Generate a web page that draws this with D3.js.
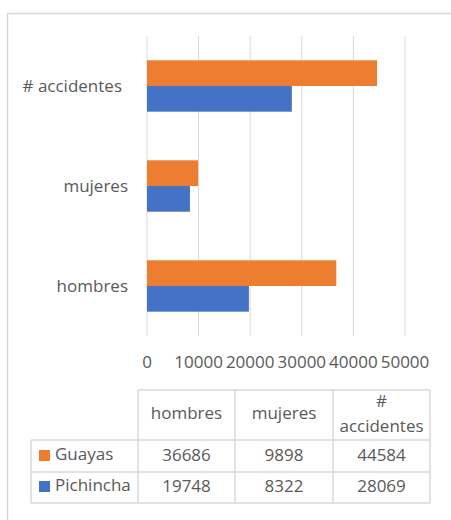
<!DOCTYPE html>
<html><head><meta charset="utf-8">
<script src="https://cdn.jsdelivr.net/npm/d3@7"></script>
<style>body{margin:0;background:#fff;} svg{display:block;} text{font-family:"Open Sans",sans-serif;fill:#595959;}</style>
</head><body>
<svg id="c" width="451" height="520"></svg>
<script>
const categories = ["hombres", "mujeres", "# accidentes"];
const seriesNames = ["Guayas", "Pichincha"];
const guayas = [36686, 9898, 44584];
const pichincha = [19748, 8322, 28069];
const xTicks = [0, 10000, 20000, 30000, 40000, 50000];
const colors = ["#ED7D31", "#4472C4"];

const svg = d3.select("#c");
const fs = 17;
// frame
svg.append("rect").attr("x",7.5).attr("y",13.5).attr("width",470).attr("height",530)
  .attr("fill","none").attr("stroke","#d9d9d9").attr("stroke-width",1.5);

const x = d3.scaleLinear().domain([0,50000]).range([147,405]);
const y = d3.scaleBand().domain(categories.slice().reverse()).range([36,336]).paddingInner(0.486).paddingOuter(0.243);
const ySub = d3.scaleBand().domain(seriesNames).range([0,y.bandwidth()]);

// gridlines
svg.append("g").selectAll("line").data(xTicks).join("line")
  .attr("x1",d=>x(d)).attr("x2",d=>x(d)).attr("y1",36).attr("y2",336)
  .attr("stroke","#d9d9d9").attr("stroke-width",1);

const series = [guayas, pichincha];
series.forEach((vals,si)=>{
  svg.append("g").selectAll("rect").data(categories).join("rect")
    .attr("x",x(0)).attr("y",(c)=>y(c)+ySub(seriesNames[si]))
    .attr("width",(c,i)=>x(vals[i])-x(0)).attr("height",ySub.bandwidth())
    .attr("fill",colors[si]);
});

// category labels
svg.append("g").selectAll("text").data(categories).join("text")
  .attr("x",d=> d==="# accidentes" ? 122 : 128).attr("y",d=>y(d)+y.bandwidth()/2)
  .attr("dy","0.35em").attr("text-anchor","end").attr("font-size",fs).text(d=>d);

// x tick labels
svg.append("g").selectAll("text").data(xTicks).join("text")
  .attr("x",d=>x(d)).attr("y",362).attr("dy","0.35em").attr("text-anchor","middle")
  .attr("font-size",fs).text(d=>d3.format("d")(d));

// data table
const colX = [138, 235, 333, 430];
const rowY = [390, 440, 472, 503];
const legL = 31;
const g = svg.append("g");
const lc = "#d9d9d9";
function ln(x1,y1,x2,y2){g.append("line").attr("x1",x1).attr("y1",y1).attr("x2",x2).attr("y2",y2).attr("stroke",lc).attr("stroke-width",1.5);}
ln(colX[0],rowY[0],colX[3],rowY[0]);
ln(legL,rowY[1],colX[3],rowY[1]);
ln(legL,rowY[2],colX[3],rowY[2]);
ln(legL,rowY[3],colX[3],rowY[3]);
ln(legL,rowY[1],legL,rowY[3]);
colX.forEach(cx=>ln(cx,rowY[0],cx,rowY[3]));

// headers
categories.forEach((c,i)=>{
  const cx=(colX[i]+colX[i+1])/2;
  if(c==="# accidentes"){
    g.append("text").attr("x",cx).attr("y",401.5).attr("dy","0.35em").attr("text-anchor","middle").attr("font-size",fs).text("#");
    g.append("text").attr("x",cx).attr("y",426.5).attr("dy","0.35em").attr("text-anchor","middle").attr("font-size",fs).text("accidentes");
  } else {
    g.append("text").attr("x",cx).attr("y",413).attr("dy","0.35em").attr("text-anchor","middle").attr("font-size",fs).text(c);
  }
});
const rowC=[455,486];
series.forEach((vals,si)=>{
  g.append("rect").attr("x",39).attr("y",rowC[si]-5).attr("width",11).attr("height",11).attr("fill",colors[si]);
  g.append("text").attr("x",55).attr("y",rowC[si]-1).attr("dy","0.35em").attr("font-size",fs).text(seriesNames[si]);
  vals.forEach((v,i)=>{
    g.append("text").attr("x",(colX[i]+colX[i+1])/2).attr("y",rowC[si]).attr("dy","0.35em")
      .attr("text-anchor","middle").attr("font-size",fs).text(v);
  });
});
</script>
</body></html>
